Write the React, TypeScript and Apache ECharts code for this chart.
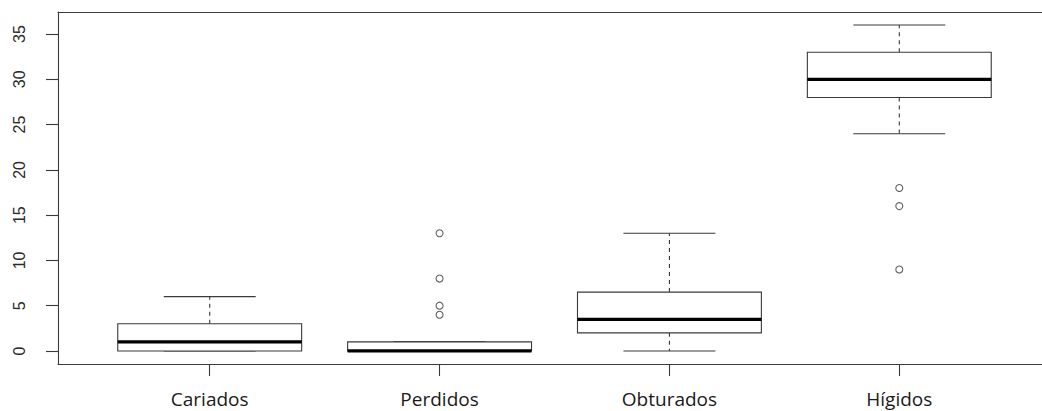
import React, { useEffect, useRef } from "react";
import * as echarts from "echarts";

const categories = ["Cariados", "Perdidos", "Obturados", "Hígidos"];
const whiskerLow = [0, 0, 0, 24];
const quartile1 = [0, 0, 2, 28];
const medians = [1, 0, 3.5, 30];
const quartile3 = [3, 1, 6.5, 33];
const whiskerHigh = [6, 1, 13, 36];
const outliers: number[][] = [[], [13, 8, 5, 4], [], [18, 16, 9]];
const yTicks = [0, 5, 10, 15, 20, 25, 30, 35];

const LINE = "#3a3a3a";

export default function App() {
  const ref = useRef<HTMLDivElement>(null);

  useEffect(() => {
    if (!ref.current) return;
    const chart = echarts.init(ref.current, undefined, { renderer: "svg" });

    const boxData = categories.map((_, i) => [
      i + 1,
      whiskerLow[i],
      quartile1[i],
      medians[i],
      quartile3[i],
      whiskerHigh[i],
    ]);
    const outlierData: number[][] = [];
    outliers.forEach((arr, i) => arr.forEach((v) => outlierData.push([i + 1, v])));

    const renderItem = (params: any, api: any) => {
      const x = api.value(0);
      const lo = api.value(1);
      const q1 = api.value(2);
      const med = api.value(3);
      const q3 = api.value(4);
      const hi = api.value(5);
      const cx = api.coord([x, med])[0];
      const yLo = api.coord([x, lo])[1];
      const yQ1 = api.coord([x, q1])[1];
      const yMed = api.coord([x, med])[1];
      const yQ3 = api.coord([x, q3])[1];
      const yHi = api.coord([x, hi])[1];
      const w = api.size([0.8, 0])[0];
      const half = w / 2;
      const cap = w / 4;
      const dash = { stroke: LINE, lineWidth: 1.1, lineDash: [4, 4], fill: null };
      const solid = { stroke: LINE, lineWidth: 1.1, fill: null };
      const children: any[] = [];
      if (hi > q3) {
        children.push({ type: "line", shape: { x1: cx, y1: yQ3, x2: cx, y2: yHi }, style: dash });
      }
      if (lo < q1) {
        children.push({ type: "line", shape: { x1: cx, y1: yQ1, x2: cx, y2: yLo }, style: dash });
      }
      children.push({ type: "line", shape: { x1: cx - cap, y1: yHi, x2: cx + cap, y2: yHi }, style: solid });
      children.push({ type: "line", shape: { x1: cx - cap, y1: yLo, x2: cx + cap, y2: yLo }, style: solid });
      children.push({
        type: "rect",
        shape: { x: cx - half, y: yQ3, width: w, height: yQ1 - yQ3 },
        style: { fill: "#fff", stroke: LINE, lineWidth: 1.1 },
      });
      children.push({
        type: "line",
        shape: { x1: cx - half, y1: yMed, x2: cx + half, y2: yMed },
        style: { stroke: "#000", lineWidth: 3.2, fill: null },
      });
      return { type: "group", children };
    };

    chart.setOption({
      animation: false,
      backgroundColor: "#fff",
      grid: {
        left: 58,
        top: 12,
        right: 1,
        bottom: 47,
        show: false,
      },
      xAxis: [
        {
          type: "value",
          min: 0.34,
          max: 4.66,
          position: "bottom",
          axisLine: { show: true, onZero: false, lineStyle: { color: LINE, width: 1.1 } },
          splitLine: { show: false },
          axisTick: {
            show: true,
            inside: false,
            length: 12,
            customValues: [1, 2, 3, 4],
            lineStyle: { color: LINE, width: 1.1 },
          },
          axisLabel: {
            customValues: [1, 2, 3, 4],
            formatter: (v: number) => categories[Math.round(v) - 1] ?? "",
            fontFamily: "Open Sans",
            fontSize: 19,
            color: "#1a1a1a",
            margin: 25,
          },
        },
        {
          type: "value",
          min: 0.34,
          max: 4.66,
          position: "top",
          axisLine: { show: true, onZero: false, lineStyle: { color: LINE, width: 1.1 } },
          splitLine: { show: false },
          axisTick: { show: false },
          axisLabel: { show: false },
        },
      ],
      yAxis: {
        type: "value",
        min: -1.44,
        max: 37.44,
        axisLine: { show: true, onZero: false, lineStyle: { color: LINE, width: 1.1 } },
        splitLine: { show: false },
        axisTick: {
          show: true,
          inside: false,
          length: 12,
          customValues: yTicks,
          lineStyle: { color: LINE, width: 1.1 },
        },
        axisLabel: {
          customValues: yTicks,
          rotate: 90,
          fontFamily: "Liberation Sans",
          fontSize: 16,
          color: "#2a2a2a",
          margin: 31,
        },
      },
      series: [
        {
          type: "custom",
          renderItem,
          data: boxData,
          encode: { x: 0, y: [1, 2, 3, 4, 5] },
          z: 2,
        },
        {
          type: "scatter",
          data: outlierData,
          symbol: "circle",
          symbolSize: 7,
          itemStyle: { color: "#fff", borderColor: LINE, borderWidth: 1.1 },
          z: 3,
        },
      ],
    });

    return () => chart.dispose();
  }, []);

  return (
    <div
      style={{
        position: "absolute",
        left: 0,
        top: 0,
        width: 1042,
        height: 411,
        overflow: "hidden",
      }}
    >
      <div ref={ref} style={{ width: 1052, height: 411 }} />
    </div>
  );
}
